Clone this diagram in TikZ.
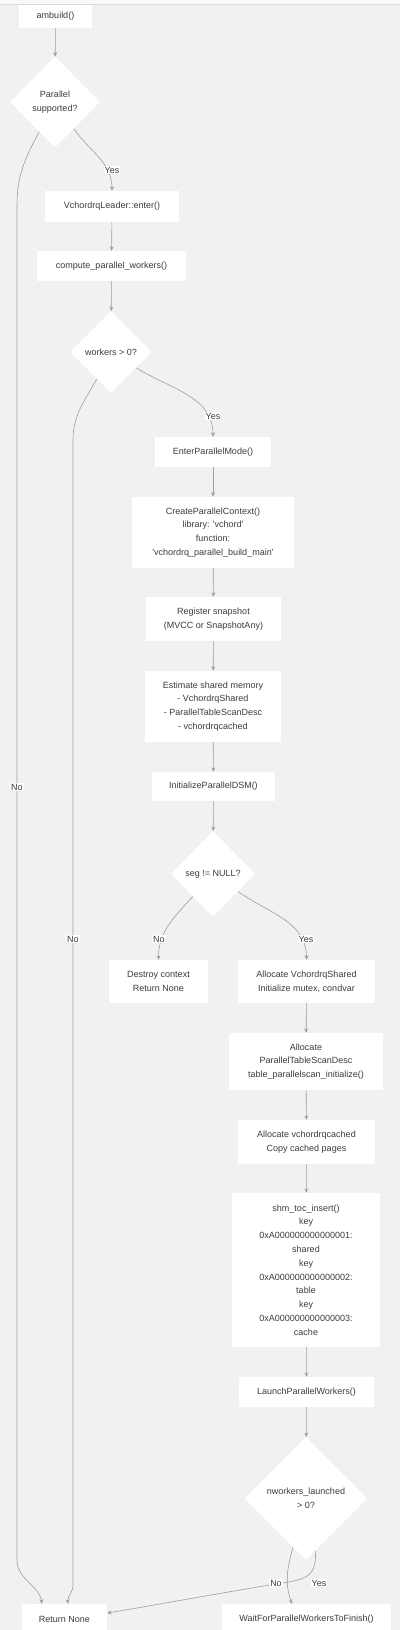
\documentclass[tikz,border=0pt]{standalone}
\usepackage{fontspec}
\setmainfont{Liberation Sans}
\usepackage{tikz}
\usetikzlibrary{shapes.geometric, arrows.meta}
\definecolor{bg}{RGB}{242, 241, 240}
\definecolor{ink}{RGB}{60, 60, 60}
\definecolor{wire}{RGB}{158, 158, 158}
\definecolor{rule}{RGB}{218, 218, 218}
\newcommand{\boxfont}{\fontsize{9}{13.8}\selectfont}

\begin{document}
\begin{tikzpicture}[x=1pt, y=1pt,
    box/.style={fill=white, text=ink, font=\boxfont, align=center, inner sep=0pt},
    choice/.style={diamond, aspect=1, fill=white, text=ink, font=\boxfont, align=center, inner sep=0pt},
    edge/.style={draw=wire, line width=0.6pt, -{Stealth[length=4.5pt, width=4pt]}},
    lbl/.style={fill=white, text=ink, font=\boxfont, inner sep=1pt}]
  \useasboundingbox (0, 0) rectangle (400, -1630);
  \fill[bg] (0, 0) rectangle (400, -1630);
  \fill[white!60!bg] (0, 0) rectangle (400, -4);
  \draw[rule, line width=1pt] (0, -4.5) -- (400, -4.5);

  \node[box, minimum width=73pt, minimum height=23pt] (amb) at (55.5, -16.5) {ambuild()};
  \node[choice, minimum width=90pt, minimum height=91pt] (par) at (55, -102) {Parallel\\supported?};
  \node[box, minimum width=134pt, minimum height=31pt] (lead) at (112, -206.5) {VchordrqLeader::enter()};
  \node[box, minimum width=149pt, minimum height=30pt] (comp) at (111.5, -266) {compute\_parallel\_workers()};
  \node[choice, minimum width=82pt, minimum height=82pt] (wrk) at (111, -352) {workers > 0?};
  \node[box, minimum width=116pt, minimum height=30pt] (epm) at (213, -452) {EnterParallelMode()};
  \node[box, minimum width=162pt, minimum height=71pt] (cpc) at (213, -532.5)
    {CreateParallelContext()\\library: \textquotesingle vchord\textquotesingle\\function:\\\textquotesingle vchordrq\_parallel\_build\_main\textquotesingle};
  \node[box, minimum width=135pt, minimum height=44pt] (reg) at (213.5, -619) {Register snapshot\\(MVCC or SnapshotAny)};
  \node[box, minimum width=136pt, minimum height=71pt] (est) at (213, -706.5)
    {Estimate shared memory\\- VchordrqShared\\- ParallelTableScanDesc\\- vchordrqcached};
  \node[box, minimum width=123pt, minimum height=29pt] (idsm) at (213.5, -786.5) {InitializeParallelDSM()};
  \node[choice, minimum width=84pt, minimum height=86pt] (seg) at (213, -874) {seg != NULL?};
  \node[box, minimum width=99pt, minimum height=43pt] (dest) at (158.5, -981.5) {Destroy context\\Return None};
  \node[box, minimum width=137pt, minimum height=43pt] (alsh) at (306.5, -981.5) {Allocate VchordrqShared\\Initialize mutex, condvar};
  \node[box, minimum width=154pt, minimum height=57pt] (alpt) at (306, -1061.5)
    {Allocate\\ParallelTableScanDesc\\table\_parallelscan\_initialize()};
  \node[box, minimum width=137pt, minimum height=44pt] (alca) at (306.5, -1142) {Allocate vchordrqcached\\Copy cached pages};
  \node[box, minimum width=148pt, minimum height=154pt] (shm) at (306, -1270)
    {shm\_toc\_insert()\\key\\0xA000000000000001:\\shared\\key\\0xA000000000000002:\\table\\key\\0xA000000000000003:\\cache};
  \node[box, minimum width=135pt, minimum height=30pt] (lpw) at (306.5, -1392) {LaunchParallelWorkers()};
  \node[choice, minimum width=123pt, minimum height=123pt] (nwl) at (306, -1498.5) {nworkers\_launched\\> 0?};
  \node[box, minimum width=85pt, minimum height=30pt] (ret) at (64.5, -1619) {Return None};
  \node[box, minimum width=169pt, minimum height=30pt] (wait) at (306.5, -1619) {WaitForParallelWorkersToFinish()};

  \draw[edge] (amb) -- (par);
  \draw[edge] (par) to[out=-55, in=90] (lead);
  \draw[edge] (par) to[out=-118, in=90] (17, -205) -- (17, -1560)
    to[out=-90, in=100] ([xshift=-22.5pt]ret.north);
  \draw[edge] (lead) -- (comp);
  \draw[edge] (comp) -- (wrk);
  \draw[edge] (wrk) to[out=-32, in=90] (epm);
  \draw[edge] (wrk) to[out=-118, in=90] (73, -440) -- (73, -1585)
    to[out=-90, in=95] ([xshift=3.5pt]ret.north);
  \draw[edge] (epm) -- (cpc);
  \draw[edge] (cpc) -- (reg);
  \draw[edge] (reg) -- (est);
  \draw[edge] (est) -- (idsm);
  \draw[edge] (idsm) -- (seg);
  \draw[edge] (seg) to[out=-132, in=90] (dest);
  \draw[edge] (seg) to[out=-35, in=90] (alsh);
  \draw[edge] (alsh) -- (alpt);
  \draw[edge] (alpt) -- (alca);
  \draw[edge] (alca) -- (shm);
  \draw[edge] (shm) -- (lpw);
  \draw[edge] (lpw) -- (nwl);
  \draw[edge] (nwl) to[out=-105, in=110] ([xshift=-14.5pt]wait.north);
  \draw[edge] (nwl.-80) .. controls (318, -1580) and (300, -1580) .. (276, -1584)
    .. controls (220, -1593) and (150, -1606) .. ([yshift=6pt]ret.east);

  \node[lbl] (y1) at (112, -170) {Yes};
  \node[lbl] (y2) at (213, -416) {Yes};
  \node[lbl] (n1) at (17, -787) {No};
  \node[lbl] (n2) at (73, -939) {No};
  \node[lbl] (n3) at (159, -939) {No};
  \node[lbl] (y3) at (306, -939) {Yes};
  \node[lbl] (n4) at (276, -1583) {No};
  \node[lbl] (y4) at (319, -1583) {Yes};
\end{tikzpicture}
\end{document}
